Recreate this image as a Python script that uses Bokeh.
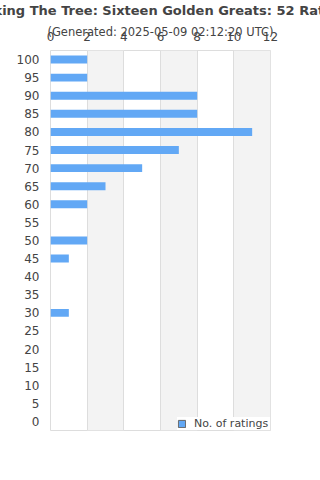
from bokeh.plotting import figure
from bokeh.models import FactorRange, Range1d, Legend, LegendItem, ColumnDataSource, FixedTicker
from bokeh.embed import file_html
from bokeh.resources import INLINE

title_text = "Shaking The Tree: Sixteen Golden Greats: 52 Ratings"
subtitle_text = "(Generated: 2025-05-09 02:12:20 UTC)"
ratings = ["0", "5", "10", "15", "20", "25", "30", "35", "40", "45", "50",
           "55", "60", "65", "70", "75", "80", "85", "90", "95", "100"]
counts = [0, 0, 0, 0, 0, 0, 1, 0, 0, 1, 2,
          0, 2, 3, 5, 7, 11, 8, 8, 2, 2]
x_ticks = [0, 2, 4, 6, 8, 10, 12]
series_name = "No. of ratings"

FONT = "DejaVu Sans"
TXT = "#444444"
BAR = "#62a8f5"

src = ColumnDataSource(dict(r=ratings, c=counts))

p = figure(width=320, height=480, output_backend="svg", toolbar_location=None,
           y_range=FactorRange(factors=ratings), x_range=Range1d(0, 12),
           x_axis_location="above", title=title_text,
           min_border_left=50, min_border_right=50, min_border_top=50, min_border_bottom=50)

p.title.align = "center"
p.title.vertical_align = "top"
p.title.text_font = FONT
p.title.text_font_size = "13px"
p.title.text_font_style = "bold"
p.title.text_color = TXT
p.title.standoff = 4

r = p.hbar(y="r", right="c", left=0, height=0.44, source=src,
           fill_color=BAR, line_color=None)
# zero-size bar used only for the legend swatch (blue with grey border)
dummy = p.hbar(y=[ratings[0]], right=[0], left=[0], height=0,
               fill_color=BAR, line_color="#666666", line_width=1)

p.xaxis.ticker = FixedTicker(ticks=x_ticks)
for ax in (p.xaxis[0], p.yaxis[0]):
    ax.axis_line_color = None
    ax.major_tick_line_color = None
    ax.minor_tick_line_color = None
    ax.major_tick_out = 0
    ax.major_label_text_font = FONT
    ax.major_label_text_font_size = "12px"
    ax.major_label_text_color = TXT
p.xaxis.major_label_standoff = 10
p.yaxis.major_label_standoff = 11

p.xaxis.axis_label = subtitle_text
p.xaxis.axis_label_text_font = FONT
p.xaxis.axis_label_text_font_size = "11.5px"
p.xaxis.axis_label_text_font_style = "normal"
p.xaxis.axis_label_text_color = TXT
p.xaxis.axis_label_standoff = -10

p.xgrid.grid_line_color = "#dddddd"
p.xgrid.band_fill_color = "#f3f3f3"
p.xgrid.band_fill_alpha = 1.0
p.ygrid.grid_line_color = None
p.outline_line_color = "#dddddd"

legend = Legend(items=[LegendItem(label=series_name, renderers=[dummy])],
                location=(127, 0), orientation="horizontal",
                label_text_font=FONT, label_text_font_size="11px", label_text_color=TXT,
                glyph_width=9, glyph_height=9, padding=4, margin=0, spacing=0,
                label_standoff=8, label_width=110,
                border_line_color=None, background_fill_color="white", background_fill_alpha=1)
p.add_layout(legend, "center")

open("out.html", "w").write(file_html(p, INLINE))
